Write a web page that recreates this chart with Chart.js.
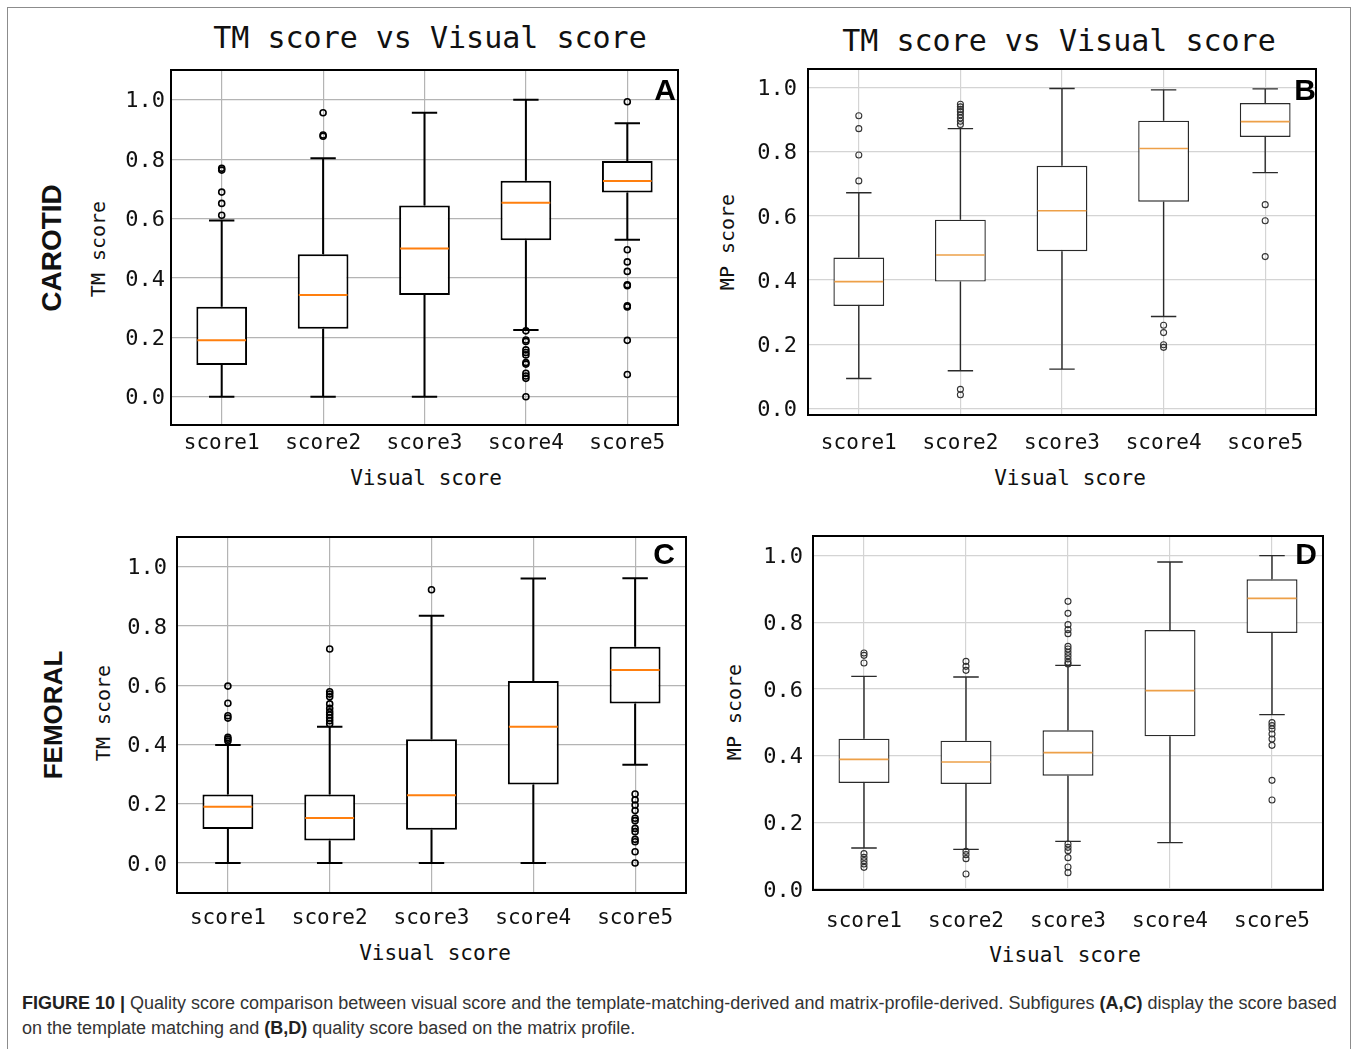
<!DOCTYPE html>
<html>
<head>
<meta charset="utf-8">
<script src="https://cdn.jsdelivr.net/npm/chart.js@4.4.0/dist/chart.umd.min.js"></script>
<style>
  body { margin: 0; background: #fff; width: 1358px; height: 1049px; position: relative; overflow: hidden; }
  .frame { position: absolute; left: 7px; top: 7px; width: 1342px; height: 1050px; border: 1px solid #8c8c8c; }
  .t { position: absolute; white-space: nowrap; color: #111; transform: translate(-50%, -50%); font-family: "DejaVu Sans Mono", monospace; }
  .rot { transform: translate(-50%, -50%) rotate(-90deg); }
  .side { font-family: "Liberation Sans", Arial, sans-serif; font-weight: bold; color: #111; }
  .letter { font-family: "Liberation Sans", Arial, sans-serif; font-weight: bold; font-size: 30px; color: #000; }
  .panel { position: absolute; }
  .caption { position: absolute; left: 22px; font-family: "Liberation Sans Narrow", "Liberation Sans", Arial, sans-serif; font-size: 18px; color: #333; white-space: nowrap; }
  .caption b { color: #222; }
</style>
</head>
<body>
<div class="frame"></div>

<div class="t" style="left:430px;top:37px;font-size:30px;">TM score vs Visual score</div>
<div class="t" style="left:1059px;top:40px;font-size:30px;">TM score vs Visual score</div>

<div class="t rot side" style="left:52px;top:248px;font-size:28px;">CAROTID</div>
<div class="t rot side" style="left:53px;top:715px;font-size:26px;">FEMORAL</div>

<div class="t rot" style="left:98px;top:249px;font-size:20px;">TM score</div>
<div class="t rot" style="left:727px;top:242px;font-size:20px;">MP score</div>
<div class="t rot" style="left:103px;top:713px;font-size:20px;">TM score</div>
<div class="t rot" style="left:734px;top:712px;font-size:20px;">MP score</div>

<div class="t" style="left:426px;top:478px;font-size:21px;">Visual score</div>
<div class="t" style="left:1070px;top:478px;font-size:21px;">Visual score</div>
<div class="t" style="left:435px;top:953px;font-size:21px;">Visual score</div>
<div class="t" style="left:1065px;top:955px;font-size:21px;">Visual score</div>

<div class="panel" id="wA"><canvas id="chartA"></canvas></div>
<div class="panel" id="wB"><canvas id="chartB"></canvas></div>
<div class="panel" id="wC"><canvas id="chartC"></canvas></div>
<div class="panel" id="wD"><canvas id="chartD"></canvas></div>

<div class="t letter" style="left:665px;top:90px;">A</div>
<div class="t letter" style="left:1305px;top:90px;">B</div>
<div class="t letter" style="left:664px;top:554px;">C</div>
<div class="t letter" style="left:1306px;top:554px;">D</div>

<div class="caption" style="top:993px;"><b>FIGURE 10 |</b> Quality score comparison between visual score and the template-matching-derived and matrix-profile-derived. Subfigures <b>(A,C)</b> display the score based</div>
<div class="caption" style="top:1018px;">on the template matching and <b>(B,D)</b> quality score based on the matrix profile.</div>

<script>
const categories = ['score1', 'score2', 'score3', 'score4', 'score5'];
const yTicks = [0, 0.2, 0.4, 0.6, 0.8, 1.0];

// A: carotid, TM score
const aLow  = [0, 0, 0, 0.225, 0.529];
const aQ1   = [0.107, 0.229, 0.343, 0.527, 0.688];
const aMed  = [0.190, 0.343, 0.499, 0.653, 0.726];
const aQ3   = [0.303, 0.480, 0.644, 0.727, 0.794];
const aHigh = [0.593, 0.803, 0.956, 1.0, 0.921];
const aOut  = [
  [0.611, 0.651, 0.689, 0.763, 0.769],
  [0.877, 0.881, 0.956],
  [],
  [0.222, 0.191, 0.186, 0.158, 0.149, 0.141, 0.115, 0.110, 0.079, 0.070, 0.062, 0],
  [0.993, 0.495, 0.454, 0.422, 0.377, 0.374, 0.306, 0.302, 0.190, 0.075]
];

// B: carotid, MP score
const bLow  = [0.093, 0.117, 0.122, 0.286, 0.735];
const bQ1   = [0.319, 0.395, 0.490, 0.644, 0.846];
const bMed  = [0.395, 0.478, 0.616, 0.810, 0.894];
const bQ3   = [0.470, 0.588, 0.756, 0.897, 0.952];
const bHigh = [0.672, 0.872, 0.997, 0.993, 0.996];
const bOut  = [
  [0.912, 0.872, 0.790, 0.709],
  [0.948, 0.940, 0.932, 0.925, 0.915, 0.905, 0.895, 0.885, 0.059, 0.042],
  [],
  [0.259, 0.236, 0.198, 0.190],
  [0.635, 0.585, 0.473]
];

// C: femoral, TM score
const cLow  = [0, 0, 0, 0, 0.332];
const cQ1   = [0.115, 0.076, 0.112, 0.265, 0.538];
const cMed  = [0.190, 0.152, 0.229, 0.460, 0.651];
const cQ3   = [0.231, 0.231, 0.418, 0.614, 0.730];
const cHigh = [0.398, 0.460, 0.834, 0.960, 0.961];
const cOut  = [
  [0.597, 0.539, 0.497, 0.489, 0.424, 0.418, 0.412],
  [0.722, 0.578, 0.570, 0.561, 0.537, 0.522, 0.510, 0.500, 0.490, 0.480, 0.470],
  [0.922],
  [],
  [0.233, 0.213, 0.196, 0.177, 0.151, 0.143, 0.117, 0.106, 0.080, 0.072, 0.038, 0]
];

// D: femoral, MP score
const dLow  = [0.123, 0.119, 0.143, 0.139, 0.523];
const dQ1   = [0.318, 0.315, 0.340, 0.458, 0.768];
const dMed  = [0.389, 0.381, 0.409, 0.595, 0.872];
const dQ3   = [0.451, 0.445, 0.476, 0.777, 0.929];
const dHigh = [0.638, 0.636, 0.671, 0.981, 1.0];
const dOut  = [
  [0.708, 0.701, 0.678, 0.106, 0.095, 0.085, 0.075, 0.065],
  [0.683, 0.668, 0.656, 0.113, 0.103, 0.091, 0.045],
  [0.863, 0.827, 0.793, 0.778, 0.766, 0.728, 0.720, 0.710, 0.700, 0.690, 0.680, 0.675, 0.135, 0.125, 0.115, 0.094, 0.066, 0.049],
  [],
  [0.499, 0.490, 0.480, 0.465, 0.450, 0.431, 0.326, 0.267]
];

// whiskers, caps, medians and the plot frame, drawn through the chart's scales
const stats = {};
const boxPlugin = {
  id: 'boxplot',
  afterDatasetsDraw(chart) {
    const s = stats[chart.canvas.id];
    if (!s) return;
    const ctx = chart.ctx;
    const x = chart.scales.x, y = chart.scales.y;
    const bars = chart.getDatasetMeta(0).data;
    ctx.save();
    ctx.lineCap = 'butt';
    categories.forEach((c, i) => {
      const cx = x.getPixelForValue(i);
      const hw = bars[i].width / 2;
      ctx.strokeStyle = s.line;
      ctx.lineWidth = s.lw;
      ctx.beginPath();
      ctx.moveTo(cx, y.getPixelForValue(s.q3[i]));
      ctx.lineTo(cx, y.getPixelForValue(s.high[i]));
      ctx.moveTo(cx, y.getPixelForValue(s.q1[i]));
      ctx.lineTo(cx, y.getPixelForValue(s.low[i]));
      ctx.moveTo(cx - hw / 2, y.getPixelForValue(s.high[i]));
      ctx.lineTo(cx + hw / 2, y.getPixelForValue(s.high[i]));
      ctx.moveTo(cx - hw / 2, y.getPixelForValue(s.low[i]));
      ctx.lineTo(cx + hw / 2, y.getPixelForValue(s.low[i]));
      ctx.stroke();
      ctx.strokeStyle = s.medColor;
      ctx.lineWidth = s.medLw;
      ctx.beginPath();
      ctx.moveTo(cx - hw + 1, y.getPixelForValue(s.med[i]));
      ctx.lineTo(cx + hw - 1, y.getPixelForValue(s.med[i]));
      ctx.stroke();
    });
    const a = chart.chartArea;
    ctx.strokeStyle = '#000';
    ctx.lineWidth = s.frameLw;
    ctx.strokeRect(a.left, a.top, a.right - a.left, a.bottom - a.top);
    ctx.restore();
  }
};

const PAD_TOP = 32;

function makePanel(id, g, d) {
  const wrap = document.getElementById('w' + id);
  wrap.style.left = (g.left - g.yW) + 'px';
  wrap.style.top = (g.top - PAD_TOP) + 'px';
  const canvas = document.getElementById('chart' + id);
  canvas.width = g.yW + (g.right - g.left) + 20;
  canvas.height = PAD_TOP + (g.bottom - g.top) + 50;
  stats['chart' + id] = {
    low: d.low, q1: d.q1, med: d.med, q3: d.q3, high: d.high,
    line: g.line, lw: g.lw, medColor: g.medColor, medLw: g.medLw, frameLw: g.frameLw
  };
  const outliers = [];
  d.out.forEach((arr, i) => arr.forEach(v => outliers.push({ x: categories[i], y: v })));

  new Chart(canvas, {
    type: 'bar',
    data: {
      labels: categories,
      datasets: [{
        label: 'box',
        data: d.q1.map((v, i) => [v, d.q3[i]]),
        backgroundColor: '#fff',
        borderColor: g.line,
        borderWidth: g.lw,
        borderSkipped: false,
        barPercentage: 0.5,
        categoryPercentage: 1.0
      }, {
        type: 'scatter',
        label: 'outliers',
        data: outliers,
        pointRadius: 3,
        pointHoverRadius: 3,
        pointBorderWidth: g.ptLw,
        borderColor: g.ptColor,
        backgroundColor: 'rgba(0,0,0,0)'
      }]
    },
    options: {
      responsive: false,
      animation: false,
      devicePixelRatio: 1,
      layout: { padding: { top: PAD_TOP, right: 20, left: 0, bottom: 0 } },
      plugins: { legend: { display: false }, tooltip: { enabled: false } },
      scales: {
        x: {
          type: 'category',
          offset: true,
          grid: { offset: false, color: g.grid, lineWidth: 1.2, drawTicks: false },
          border: { display: false },
          ticks: {
            maxRotation: 0, autoSkip: false, padding: g.xPad, color: '#111',
            font: { family: 'DejaVu Sans Mono', size: 21 }
          },
          afterFit: s => { s.height = 50; }
        },
        y: {
          type: 'linear',
          min: g.min,
          max: g.max,
          afterBuildTicks: s => { s.ticks = yTicks.map(v => ({ value: v })); },
          grid: { color: g.grid, lineWidth: 1.2, drawTicks: false },
          border: { display: false },
          ticks: {
            padding: g.yPad, color: '#111', labelOffset: 2,
            font: { family: 'DejaVu Sans Mono', size: 22 },
            callback: v => Number(v).toFixed(1)
          },
          afterFit: s => { s.width = g.yW; }
        }
      }
    },
    plugins: [boxPlugin]
  });
}

const strongStyle = { line: '#000', lw: 2, medColor: '#ff7f0e', medLw: 2, frameLw: 2, grid: '#b4b4b4', ptColor: '#000', ptLw: 1.6 };
const lightStyle  = { line: '#2a2a2a', lw: 1.4, medColor: '#eda048', medLw: 1.6, frameLw: 2, grid: '#d4d4d4', ptColor: '#333', ptLw: 1.1 };

makePanel('A', Object.assign({ left: 171, top: 70, right: 678, bottom: 425, yW: 60, min: -0.095, max: 1.1, yPad: 6, xPad: 6 }, strongStyle),
  { low: aLow, q1: aQ1, med: aMed, q3: aQ3, high: aHigh, out: aOut });
makePanel('B', Object.assign({ left: 808, top: 69, right: 1316, bottom: 415, yW: 60, min: -0.021, max: 1.058, yPad: 11, xPad: 16 }, lightStyle),
  { low: bLow, q1: bQ1, med: bMed, q3: bQ3, high: bHigh, out: bOut });
makePanel('C', Object.assign({ left: 177, top: 537, right: 686, bottom: 893, yW: 60, min: -0.101, max: 1.1, yPad: 10, xPad: 13 }, strongStyle),
  { low: cLow, q1: cQ1, med: cMed, q3: cQ3, high: cHigh, out: cOut });
makePanel('D', Object.assign({ left: 813, top: 536, right: 1323, bottom: 890, yW: 60, min: -0.003, max: 1.059, yPad: 10, xPad: 19 }, lightStyle),
  { low: dLow, q1: dQ1, med: dMed, q3: dQ3, high: dHigh, out: dOut });
</script>
</body>
</html>
